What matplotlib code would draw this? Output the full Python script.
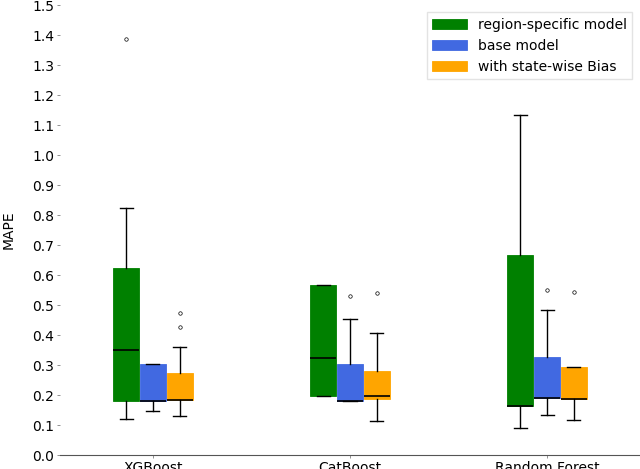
import matplotlib
matplotlib.use("Agg")
import matplotlib.pyplot as plt

models = ["XGBoost", "CatBoost", "Random Forest"]
series = ["region-specific model", "base model", "with state-wise Bias"]
colors = ["green", "royalblue", "orange"]

# box statistics: [whislo, q1, med, q3, whishi]
region_stats = [
    [0.120, 0.180, 0.351, 0.623, 0.822],
    [0.197, 0.197, 0.322, 0.568, 0.568],
    [0.089, 0.162, 0.162, 0.666, 1.134],
]
base_stats = [
    [0.146, 0.180, 0.180, 0.303, 0.303],
    [0.181, 0.181, 0.181, 0.303, 0.455],
    [0.132, 0.191, 0.191, 0.326, 0.483],
]
bias_stats = [
    [0.129, 0.183, 0.183, 0.273, 0.361],
    [0.114, 0.188, 0.198, 0.280, 0.407],
    [0.117, 0.187, 0.187, 0.293, 0.293],
]
region_fliers = [[1.386], [], []]
base_fliers = [[], [0.529], [0.549]]
bias_fliers = [[0.474, 0.428], [0.541], [0.543]]

yticks = [round(0.1 * i, 1) for i in range(16)]


def make_stats(rows, fliers):
    out = []
    for r, f in zip(rows, fliers):
        out.append(dict(whislo=r[0], q1=r[1], med=r[2], q3=r[3], whishi=r[4], fliers=f))
    return out


fig = plt.figure(figsize=(6.4, 4.69), dpi=100)
ax = fig.add_axes([60 / 640, 14 / 469, 580 / 640, 450 / 469])

offsets = [-0.135, 0.0, 0.135]
groups = [(region_stats, region_fliers), (base_stats, base_fliers), (bias_stats, bias_fliers)]
handles = []
for (rows, fl), off, col, name in zip(groups, offsets, colors, series):
    pos = [i + 1 + off for i in range(len(models))]
    bp = ax.bxp(make_stats(rows, fl), positions=pos, widths=0.132, patch_artist=True,
                boxprops=dict(facecolor=col, edgecolor=col, linewidth=0.6),
                medianprops=dict(color="black", linewidth=1.2),
                whiskerprops=dict(color="black", linewidth=1.0),
                capprops=dict(color="black", linewidth=1.0),
                flierprops=dict(marker="o", markersize=2.5, markerfacecolor="none",
                                markeredgecolor="black", markeredgewidth=0.5),
                manage_ticks=False)
    handles.append(bp["boxes"][0])

ax.set_xticks([1, 2, 3])
ax.set_xticklabels(models, fontsize=10)
ax.set_xlim(0.528, 3.472)
ax.set_ylim(0, 1.5)
ax.set_yticks(yticks)
ax.set_yticklabels([f"{t:.1f}" for t in yticks], fontsize=10)
ax.set_ylabel("MAPE", fontsize=10, labelpad=12)
ax.tick_params(axis="y", length=2, width=0.6, color="gray", pad=2)
ax.tick_params(axis="x", length=2, width=0.6, color="gray", pad=2)

for s in ["top", "right", "left"]:
    ax.spines[s].set_visible(False)
ax.spines["bottom"].set_color("#555555")

ax.legend(handles, series, loc="upper right", fontsize=10, frameon=True,
          edgecolor="#dddddd", fancybox=False, handlelength=2.5,
          bbox_to_anchor=(0.999, 0.999))

fig.savefig("out.png", dpi=100)
